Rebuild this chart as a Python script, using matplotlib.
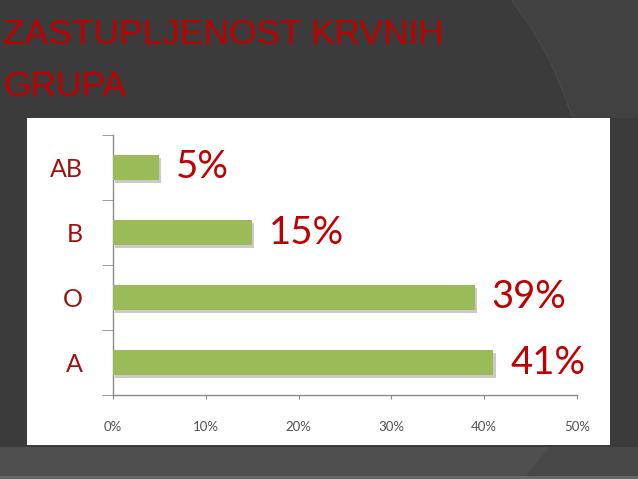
import matplotlib
matplotlib.use("Agg")
import matplotlib.pyplot as plt
from matplotlib import font_manager
from matplotlib.patches import Rectangle, Polygon
import matplotlib.patheffects as pe

# data
groups = ["A", "O", "B", "AB"]
shares = [41, 39, 15, 5]
x_ticks = [0, 10, 20, 30, 40, 50]
title = "ZASTUPLJENOST KRVNIH\nGRUPA"

W, H = 638, 479
BG = "#3b3b3b"
RED = "#c00000"
GREEN = "#9bbb59"


def pick_font(names):
    for name in names:
        try:
            font_manager.findfont(name, fallback_to_default=False)
            return name
        except Exception:
            continue
    return "DejaVu Sans"


title_font = pick_font(["Liberation Sans Narrow", "Liberation Sans"])
chart_font = pick_font(["Lato", "Open Sans", "DejaVu Sans"])


def px(points):
    # pixel coords (top-left origin) -> figure fractions
    return [(x / W, 1 - y / H) for x, y in points]


fig = plt.figure(figsize=(W / 100, H / 100), dpi=100, facecolor=BG)

# slide background decorations
curve = [(512, 0), (532, 28), (549, 58), (562, 88), (573, 118)]
fig.patches.append(Polygon(px(curve + [(638, 118), (638, 0)]), closed=True,
                           transform=fig.transFigure, facecolor="#414141",
                           edgecolor="none", zorder=0))
cx, cy = zip(*px(curve))
fig.lines.append(plt.Line2D(cx, cy, transform=fig.transFigure, color="#4c4c4c", lw=1.2, zorder=0))
fig.patches.append(Polygon(px([(0, 447), (638, 447), (638, 477), (0, 477)]), closed=True,
                           transform=fig.transFigure, facecolor="#4f4f4f",
                           edgecolor="none", zorder=0))
fig.patches.append(Polygon(px([(549, 447), (638, 447), (638, 477), (525, 477)]), closed=True,
                           transform=fig.transFigure, facecolor="#484848",
                           edgecolor="none", zorder=0))
fig.patches.append(Polygon(px([(0, 476), (638, 476), (638, 479), (0, 479)]), closed=True,
                           transform=fig.transFigure, facecolor="#666666",
                           edgecolor="none", zorder=0))

# white chart panel
fig.patches.append(Rectangle((27 / W, 1 - 445 / H), 583 / W, 327 / H,
                             transform=fig.transFigure, facecolor="white",
                             edgecolor="none", zorder=1))

fig.text(3 / W, 1 - 18 / H, title, color=RED, fontsize=25.5, family=title_font,
         va="top", ha="left", linespacing=1.72)

ax = fig.add_axes([113 / W, 1 - 395 / H, 464 / W, 260 / H])
ax.set_facecolor("none")
ax.set_zorder(2)

pos = list(range(len(groups)))
bars = ax.barh(pos, shares, height=0.38, color=GREEN, zorder=3)
for b in bars:
    b.set_path_effects([pe.SimplePatchShadow(offset=(1.5, -2), shadow_rgbFace="#a8a8a8", alpha=0.6),
                        pe.Normal()])

for i, v in zip(pos, shares):
    ax.annotate(f"{v}%", (v, i), xytext=(12, 0), textcoords="offset points",
                va="center", ha="left", color=RED, fontsize=27.5, family=chart_font)

ax.set_xlim(0, 50)
ax.set_ylim(-0.5, len(groups) - 0.5)

for s in ["top", "right"]:
    ax.spines[s].set_visible(False)
for s in ["left", "bottom"]:
    ax.spines[s].set_color("#8a8a8a")
    ax.spines[s].set_linewidth(1)

ax.set_yticks(pos)
ax.set_yticklabels(groups, color="#a01010", fontsize=18, family=chart_font)
ax.set_yticks([p - 0.5 for p in range(len(groups) + 1)], minor=True)
ax.tick_params(axis="y", which="major", length=0, pad=22)
ax.tick_params(axis="y", which="minor", length=8, color="#8a8a8a", direction="out")

ax.set_xticks(x_ticks)
ax.set_xticklabels([f"{t}%" for t in x_ticks], color="#505050", fontsize=9.5, family=chart_font)
ax.tick_params(axis="x", length=3, color="#8a8a8a", direction="out", pad=16)

fig.savefig("out.png", dpi=100, facecolor=BG)
